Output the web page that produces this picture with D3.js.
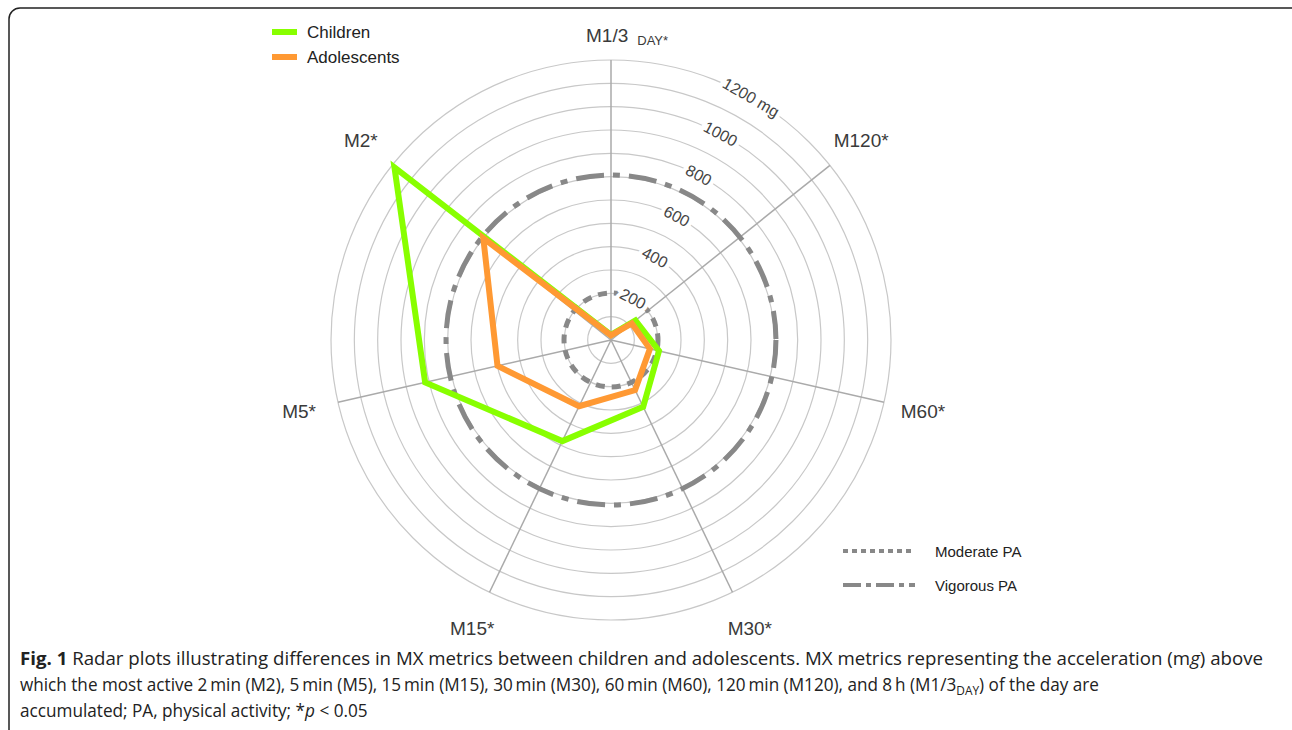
<!DOCTYPE html>
<html>
<head>
<meta charset="utf-8">
<script src="https://cdn.jsdelivr.net/npm/d3@7"></script>
<style>
  body { margin: 0; background: #fff; }
  svg { display: block; }
</style>
</head>
<body>
<script>
// axes go clockwise from the top
let axisLabels = ["M1/3", "M120*", "M60*", "M30*", "M15*", "M5*", "M2*"]
let axisSubs = ["DAY*", "", "", "", "", "", ""]
let children = [22, 134, 211, 318, 481, 817, 1187]
let adolescents = [20, 114, 171, 238, 315, 499, 700]
let ringValues = [100, 200, 300, 400, 500, 600, 700, 800, 900, 1000, 1100, 1200]
let tickValues = [200, 400, 600, 800, 1000, 1200]
let tickLabels = ["200", "400", "600", "800", "1000", "1200 mg"]
let moderatePA = 201.4
let vigorousPA = 707
let seriesNames = ["Children", "Adolescents"]
let refNames = ["Moderate PA", "Vigorous PA"]

let width = 1292, height = 730
let cx = 611, cy = 340
let green = "#88ff00", orange = "#ff9933"
let font = "'Liberation Sans', Arial, sans-serif"

let svg = d3.select('body').append('svg')
  .attr('width', width)
  .attr('height', height)

// frame round the figure
svg.append('rect')
  .attr('x', 9).attr('y', 8)
  .attr('width', 1300).attr('height', 760)
  .attr('rx', 11)
  .attr('fill', 'none')
  .attr('stroke', '#222')
  .attr('stroke-width', 1.5)

let r = d3.scaleLinear().domain([0, 1200]).range([0, 280])
let angle = d3.scaleLinear().domain([0, axisLabels.length]).range([0, 2 * Math.PI])

let radar = svg.append('g').attr('transform', `translate(${cx},${cy})`)

// rings
radar.selectAll('circle.ring')
  .data(ringValues)
  .enter().append('circle')
  .attr('class', 'ring')
  .attr('r', d => r(d))
  .attr('fill', 'none')
  .attr('stroke', '#c8c8c8')
  .attr('stroke-width', 1.2)

// spokes
radar.selectAll('line.spoke')
  .data(axisLabels)
  .enter().append('line')
  .attr('x1', 0).attr('y1', 0)
  .attr('x2', (d, i) => r(1200) * Math.sin(angle(i)))
  .attr('y2', (d, i) => -r(1200) * Math.cos(angle(i)))
  .attr('stroke', '#aaa')
  .attr('stroke-width', 1.5)

// PA thresholds
radar.append('circle')
  .attr('r', r(moderatePA))
  .attr('fill', 'none')
  .attr('stroke', '#888')
  .attr('stroke-width', 5)
  .attr('stroke-dasharray', '9,7')

radar.append('circle')
  .attr('r', r(vigorousPA))
  .attr('fill', 'none')
  .attr('stroke', '#888')
  .attr('stroke-width', 5)
  .attr('stroke-dasharray', '28,9,7,9')

// tick labels along the rings
let tickAngle = 28 * Math.PI / 180
radar.selectAll('text.tick')
  .data(tickValues)
  .enter().append('text')
  .attr('class', 'tick')
  .attr('transform', (d, i) => {
    let a = i == tickValues.length - 1 ? 30 * Math.PI / 180 : tickAngle
    let x = r(d) * Math.sin(a), y = -r(d) * Math.cos(a)
    return `translate(${x},${y}) rotate(${a * 180 / Math.PI})`
  })
  .attr('text-anchor', 'middle')
  .attr('dominant-baseline', 'central')
  .attr('font-family', font)
  .attr('font-size', 16)
  .attr('fill', '#444')
  .attr('stroke', '#fff')
  .attr('stroke-width', 8)
  .attr('paint-order', 'stroke')
  .text((d, i) => tickLabels[i])

// series polygons
let line = d3.lineRadial()
  .angle((d, i) => angle(i))
  .radius(d => r(d))
  .curve(d3.curveLinearClosed)

radar.append('path')
  .attr('d', line(children))
  .attr('fill', 'none')
  .attr('stroke', green)
  .attr('stroke-width', 6)
  .attr('stroke-linejoin', 'miter')

radar.append('path')
  .attr('d', line(adolescents))
  .attr('fill', 'none')
  .attr('stroke', orange)
  .attr('stroke-width', 6)
  .attr('stroke-linejoin', 'miter')

// axis labels
let labels = radar.selectAll('text.axis')
  .data(axisLabels)
  .enter().append('text')
  .attr('class', 'axis')
  .attr('x', (d, i) => {
    let lr = i == 0 ? 305 : 320
    return lr * Math.sin(angle(i)) + (i == 0 ? -25 : 0)
  })
  .attr('y', (d, i) => {
    let lr = i == 0 ? 305 : 320
    return -lr * Math.cos(angle(i))
  })
  .attr('text-anchor', (d, i) => i == 0 ? 'start' : 'middle')
  .attr('dominant-baseline', 'central')
  .attr('font-family', font)
  .attr('font-size', 19)
  .attr('fill', '#3a3a3a')
  .text(d => d)

labels.filter((d, i) => axisSubs[i] != '')
  .append('tspan')
  .attr('dx', 9)
  .attr('dy', 5)
  .attr('font-size', 13)
  .text((d, i) => axisSubs[axisLabels.indexOf(d)])

// top legend
let legend = svg.append('g').attr('transform', 'translate(272,32)')
let colors = [green, orange]
seriesNames.forEach((name, i) => {
  legend.append('line')
    .attr('x1', 0).attr('x2', 25)
    .attr('y1', i * 25).attr('y2', i * 25)
    .attr('stroke', colors[i])
    .attr('stroke-width', 6)
  legend.append('text')
    .attr('x', 35).attr('y', i * 25)
    .attr('dominant-baseline', 'central')
    .attr('font-family', font)
    .attr('font-size', 17)
    .attr('fill', '#222')
    .text(name)
})

// reference legend
let refLegend = svg.append('g').attr('transform', 'translate(843,551)')
let refDash = ['5,4', '18,5,5,5']
refNames.forEach((name, i) => {
  refLegend.append('line')
    .attr('x1', 0).attr('x2', 72)
    .attr('y1', i * 34).attr('y2', i * 34)
    .attr('stroke', '#888')
    .attr('stroke-width', 4)
    .attr('stroke-dasharray', refDash[i])
  refLegend.append('text')
    .attr('x', 92).attr('y', i * 34)
    .attr('dominant-baseline', 'central')
    .attr('font-family', font)
    .attr('font-size', 15)
    .attr('fill', '#222')
    .text(name)
})

// caption: each line squeezed horizontally to the width it has in the figure
let capFont = "'Open Sans', 'Noto Sans', sans-serif"
function captionLine(y, target, parts) {
  let g = svg.append('g')
  let t = g.append('text')
    .attr('x', 0).attr('y', 0)
    .attr('font-family', capFont)
    .attr('font-size', 18)
    .attr('fill', '#222')
  parts.forEach(p => {
    let s = t.append('tspan').text(p.text)
    if (p.bold) s.attr('font-weight', 'bold')
    if (p.italic) s.attr('font-style', 'italic')
    if (p.sub) s.attr('font-size', 12.5).attr('dy', 4)
    if (p.after) s.attr('dy', -4)
  })
  let w = t.node().getComputedTextLength()
  g.attr('transform', `translate(20,${y}) scale(${target / w},1)`)
}

captionLine(665, 1244, [
  {text: 'Fig. 1', bold: true},
  {text: ' Radar plots illustrating differences in MX metrics between children and adolescents. MX metrics representing the acceleration (m'},
  {text: 'g', italic: true},
  {text: ') above'}
])
captionLine(691, 1080, [
  {text: 'which the most active 2\u2009min (M2), 5\u2009min (M5), 15\u2009min (M15), 30\u2009min (M30), 60\u2009min (M60), 120\u2009min (M120), and 8\u2009h (M1/3'},
  {text: 'DAY', sub: true},
  {text: ') of the day are', after: true}
])
captionLine(717, 348, [
  {text: 'accumulated; PA, physical activity; *'},
  {text: 'p', italic: true},
  {text: ' < 0.05'}
])
</script>
</body>
</html>
